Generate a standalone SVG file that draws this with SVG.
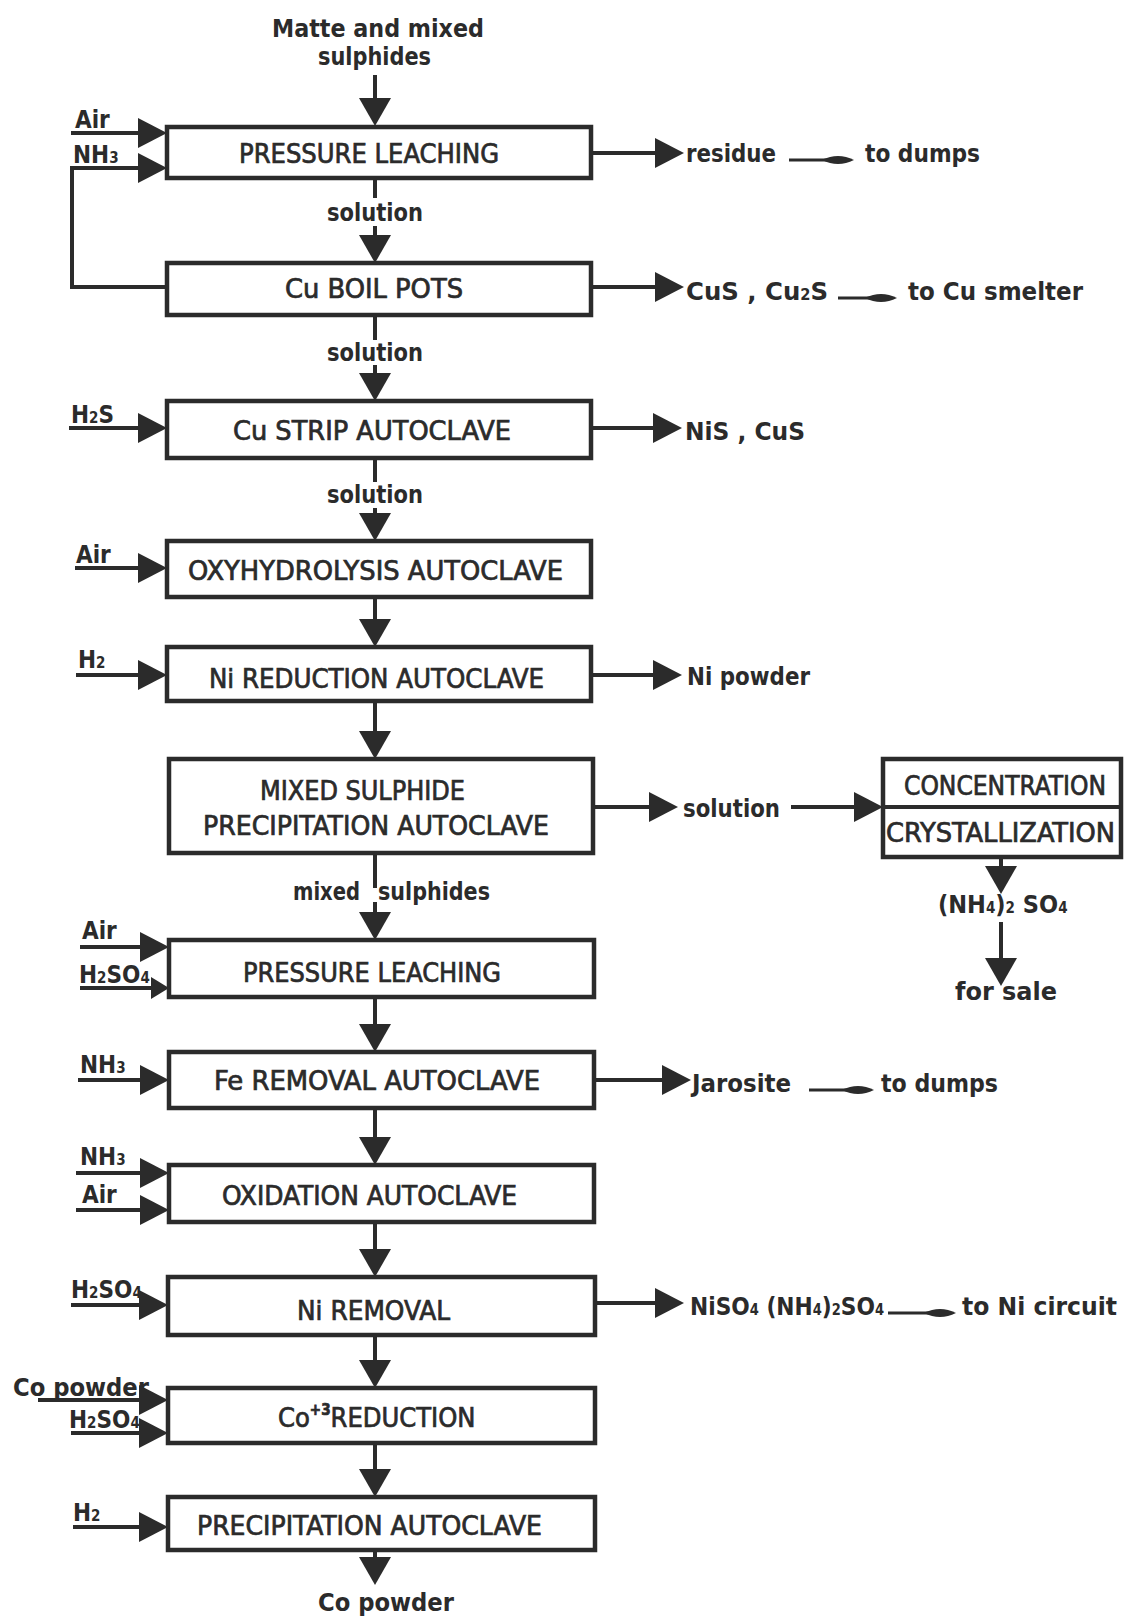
<svg xmlns="http://www.w3.org/2000/svg" xmlns:xlink="http://www.w3.org/1999/xlink" width="1125" height="1619" viewBox="0 0 1125 1619">
  <defs>
    <style>
      .box { fill: #ffffff; stroke: #2b2b2b; stroke-width: 4.5; }
      .ln { fill: none; stroke: #2b2b2b; stroke-width: 4; stroke-linecap: butt; }
      .thin { fill: none; stroke: #2b2b2b; stroke-width: 3; }
      .head { fill: #2b2b2b; }
      text { fill: #2b2b2b; font-family: "DejaVu Sans Condensed", "DejaVu Sans", sans-serif; font-stretch: condensed; }
      .bl { font-size: 27px; font-weight: normal; stroke: #2b2b2b; stroke-width: 0.7; }
      .lb { font-size: 25px; font-weight: bold; }
      .in { font-size: 24px; font-weight: bold; }
      .sub { font-size: 15px; }
    </style>
    <!-- filled arrowheads, tip at the origin -->
    <polygon id="ah-down" class="head" points="-16,-28 16,-28 0,0"/>
    <polygon id="ah-right" class="head" points="-29,-15 -29,15 0,0"/>
    <polygon id="ah-right-s" class="head" points="-18,-11 -18,11 0,0"/>
    <!-- small lens-shaped arrowhead used in the "to ..." notes -->
    <path id="ah-small" class="head" d="M-32,0 Q-16,-8 0,0 Q-16,8 -32,0 Z"/>
  </defs>

  <!-- connectors -->
  <g id="connectors">
    <!-- main column, downward flow -->
    <line class="ln" x1="375" y1="75" x2="375" y2="100"/>
    <use xlink:href="#ah-down" x="375" y="126"/>
    <line class="ln" x1="375" y1="178" x2="375" y2="198"/>
    <line class="ln" x1="375" y1="226" x2="375" y2="238"/>
    <use xlink:href="#ah-down" x="375" y="263"/>
    <line class="ln" x1="375" y1="315" x2="375" y2="340"/>
    <line class="ln" x1="375" y1="365" x2="375" y2="376"/>
    <use xlink:href="#ah-down" x="375" y="401"/>
    <line class="ln" x1="375" y1="458" x2="375" y2="482"/>
    <line class="ln" x1="375" y1="508" x2="375" y2="516"/>
    <use xlink:href="#ah-down" x="375" y="541"/>
    <line class="ln" x1="375" y1="597" x2="375" y2="622"/>
    <use xlink:href="#ah-down" x="375" y="647"/>
    <line class="ln" x1="375" y1="701" x2="375" y2="734"/>
    <use xlink:href="#ah-down" x="375" y="759"/>
    <line class="ln" x1="375" y1="853" x2="375" y2="888"/>
    <line class="ln" x1="375" y1="902" x2="375" y2="914"/>
    <use xlink:href="#ah-down" x="375" y="940"/>
    <line class="ln" x1="375" y1="997" x2="375" y2="1028"/>
    <use xlink:href="#ah-down" x="375" y="1052"/>
    <line class="ln" x1="375" y1="1108" x2="375" y2="1140"/>
    <use xlink:href="#ah-down" x="375" y="1165"/>
    <line class="ln" x1="375" y1="1222" x2="375" y2="1252"/>
    <use xlink:href="#ah-down" x="375" y="1277"/>
    <line class="ln" x1="375" y1="1335" x2="375" y2="1363"/>
    <use xlink:href="#ah-down" x="375" y="1388"/>
    <line class="ln" x1="375" y1="1443" x2="375" y2="1472"/>
    <use xlink:href="#ah-down" x="375" y="1497"/>
    <line class="ln" x1="375" y1="1550" x2="375" y2="1560"/>
    <use xlink:href="#ah-down" x="375" y="1585"/>

    <!-- feeds entering from the left -->
    <line class="ln" x1="71" y1="133" x2="140" y2="133"/>
    <use xlink:href="#ah-right" x="167" y="133"/>
    <!-- ammonia recycle from the Cu boil pots -->
    <polyline class="ln" points="167,287 72,287 72,168 140,168"/>
    <use xlink:href="#ah-right" x="167" y="168"/>
    <line class="ln" x1="69" y1="428" x2="140" y2="428"/>
    <use xlink:href="#ah-right" x="167" y="428"/>
    <line class="ln" x1="75" y1="568" x2="140" y2="568"/>
    <use xlink:href="#ah-right" x="167" y="568"/>
    <line class="ln" x1="76" y1="675" x2="140" y2="675"/>
    <use xlink:href="#ah-right" x="167" y="675"/>
    <line class="ln" x1="80" y1="947" x2="142" y2="947"/>
    <use xlink:href="#ah-right" x="169" y="947"/>
    <line class="ln" x1="80" y1="988" x2="153" y2="988"/>
    <use xlink:href="#ah-right-s" x="169" y="988"/>
    <line class="ln" x1="78" y1="1080" x2="142" y2="1080"/>
    <use xlink:href="#ah-right" x="169" y="1080"/>
    <line class="ln" x1="76" y1="1173" x2="142" y2="1173"/>
    <use xlink:href="#ah-right" x="169" y="1173"/>
    <line class="ln" x1="76" y1="1210" x2="142" y2="1210"/>
    <use xlink:href="#ah-right" x="169" y="1210"/>
    <line class="ln" x1="71" y1="1305" x2="141" y2="1305"/>
    <use xlink:href="#ah-right" x="168" y="1305"/>
    <line class="ln" x1="38" y1="1400" x2="141" y2="1400"/>
    <use xlink:href="#ah-right" x="168" y="1400"/>
    <line class="ln" x1="71" y1="1433" x2="141" y2="1433"/>
    <use xlink:href="#ah-right" x="168" y="1433"/>
    <line class="ln" x1="73" y1="1527" x2="141" y2="1527"/>
    <use xlink:href="#ah-right" x="168" y="1527"/>

    <!-- products leaving to the right -->
    <line class="ln" x1="591" y1="153" x2="656" y2="153"/>
    <use xlink:href="#ah-right" x="684" y="153"/>
    <line class="ln" x1="591" y1="287" x2="656" y2="287"/>
    <use xlink:href="#ah-right" x="684" y="287"/>
    <line class="ln" x1="591" y1="428" x2="654" y2="428"/>
    <use xlink:href="#ah-right" x="682" y="428"/>
    <line class="ln" x1="591" y1="675" x2="654" y2="675"/>
    <use xlink:href="#ah-right" x="682" y="675"/>
    <line class="ln" x1="593" y1="807" x2="650" y2="807"/>
    <use xlink:href="#ah-right" x="678" y="807"/>
    <line class="ln" x1="791" y1="807" x2="855" y2="807"/>
    <use xlink:href="#ah-right" x="883" y="807"/>
    <line class="ln" x1="594" y1="1080" x2="663" y2="1080"/>
    <use xlink:href="#ah-right" x="691" y="1080"/>
    <line class="ln" x1="595" y1="1303" x2="656" y2="1303"/>
    <use xlink:href="#ah-right" x="684" y="1303"/>

    <!-- ammonium sulphate branch -->
    <line class="ln" x1="1001" y1="857" x2="1001" y2="868"/>
    <use xlink:href="#ah-down" x="1001" y="894"/>
    <line class="ln" x1="1001" y1="922" x2="1001" y2="960"/>
    <use xlink:href="#ah-down" x="1001" y="986"/>

    <!-- small "to ..." arrows -->
    <line class="thin" x1="789" y1="160" x2="830" y2="160"/>
    <use xlink:href="#ah-small" x="854" y="160"/>
    <line class="thin" x1="838" y1="298" x2="873" y2="298"/>
    <use xlink:href="#ah-small" x="897" y="298"/>
    <line class="thin" x1="809" y1="1090" x2="850" y2="1090"/>
    <use xlink:href="#ah-small" x="874" y="1090"/>
    <line class="thin" x1="888" y1="1313" x2="932" y2="1313"/>
    <use xlink:href="#ah-small" x="956" y="1313"/>
  </g>

  <!-- feed -->
  <g id="feed">
    <text class="lb" x="272" y="37" textLength="212" lengthAdjust="spacingAndGlyphs">Matte and mixed</text>
    <text class="lb" x="318" y="65" textLength="113" lengthAdjust="spacingAndGlyphs">sulphides</text>
  </g>

  <!-- process units -->
  <g id="n-pressure-leaching-1">
    <rect class="box" x="167" y="127" width="424" height="51"/>
    <text class="bl" x="239" y="163" textLength="260" lengthAdjust="spacingAndGlyphs">PRESSURE LEACHING</text>
  </g>
  <g id="n-cu-boil-pots">
    <rect class="box" x="167" y="263" width="424" height="52"/>
    <text class="bl" x="285" y="298" textLength="178" lengthAdjust="spacingAndGlyphs">Cu BOIL POTS</text>
  </g>
  <g id="n-cu-strip">
    <rect class="box" x="167" y="401" width="424" height="57"/>
    <text class="bl" x="233" y="440" textLength="278" lengthAdjust="spacingAndGlyphs">Cu STRIP AUTOCLAVE</text>
  </g>
  <g id="n-oxyhydrolysis">
    <rect class="box" x="167" y="541" width="424" height="56"/>
    <text class="bl" x="188" y="580" textLength="375" lengthAdjust="spacingAndGlyphs">OXYHYDROLYSIS AUTOCLAVE</text>
  </g>
  <g id="n-ni-reduction">
    <rect class="box" x="167" y="647" width="424" height="54"/>
    <text class="bl" x="209" y="688" textLength="335" lengthAdjust="spacingAndGlyphs">Ni REDUCTION AUTOCLAVE</text>
  </g>
  <g id="n-mixed-sulphide">
    <rect class="box" x="169" y="759" width="424" height="94"/>
    <text class="bl" x="260" y="800" textLength="205" lengthAdjust="spacingAndGlyphs">MIXED SULPHIDE</text>
    <text class="bl" x="203" y="835" textLength="346" lengthAdjust="spacingAndGlyphs">PRECIPITATION AUTOCLAVE</text>
  </g>
  <g id="n-concentration">
    <rect class="box" x="883" y="759" width="238" height="98"/>
    <line class="ln" x1="883" y1="807" x2="1121" y2="807"/>
    <text class="bl" x="904" y="795" textLength="202" lengthAdjust="spacingAndGlyphs">CONCENTRATION</text>
    <text class="bl" x="886" y="842" textLength="229" lengthAdjust="spacingAndGlyphs">CRYSTALLIZATION</text>
  </g>
  <g id="n-pressure-leaching-2">
    <rect class="box" x="169" y="940" width="425" height="57"/>
    <text class="bl" x="243" y="982" textLength="258" lengthAdjust="spacingAndGlyphs">PRESSURE LEACHING</text>
  </g>
  <g id="n-fe-removal">
    <rect class="box" x="169" y="1052" width="425" height="56"/>
    <text class="bl" x="214" y="1090" textLength="326" lengthAdjust="spacingAndGlyphs">Fe REMOVAL AUTOCLAVE</text>
  </g>
  <g id="n-oxidation">
    <rect class="box" x="169" y="1165" width="425" height="57"/>
    <text class="bl" x="222" y="1205" textLength="295" lengthAdjust="spacingAndGlyphs">OXIDATION AUTOCLAVE</text>
  </g>
  <g id="n-ni-removal">
    <rect class="box" x="168" y="1277" width="427" height="58"/>
    <text class="bl" x="297" y="1320" textLength="153" lengthAdjust="spacingAndGlyphs">Ni REMOVAL</text>
  </g>
  <g id="n-co-reduction">
    <rect class="box" x="168" y="1388" width="427" height="55"/>
    <text class="bl" x="278" y="1427">Co<tspan class="sub" dy="-12" font-weight="bold">+3</tspan><tspan dy="12">REDUCTION</tspan></text>
  </g>
  <g id="n-precipitation">
    <rect class="box" x="168" y="1497" width="427" height="53"/>
    <text class="bl" x="197" y="1535" textLength="345" lengthAdjust="spacingAndGlyphs">PRECIPITATION AUTOCLAVE</text>
  </g>

  <!-- stream labels in the main column -->
  <g id="stream-labels">
    <text class="lb" x="327" y="221" textLength="96" lengthAdjust="spacingAndGlyphs">solution</text>
    <text class="lb" x="327" y="361" textLength="96" lengthAdjust="spacingAndGlyphs">solution</text>
    <text class="lb" x="327" y="503" textLength="96" lengthAdjust="spacingAndGlyphs">solution</text>
    <text class="lb" y="900"><tspan x="293" textLength="67" lengthAdjust="spacingAndGlyphs">mixed</tspan> <tspan x="378" textLength="112" lengthAdjust="spacingAndGlyphs">sulphides</tspan></text>
    <text class="lb" x="318" y="1611" textLength="136" lengthAdjust="spacingAndGlyphs">Co powder</text>
  </g>

  <!-- reagents -->
  <g id="reagents">
    <text class="in" x="75" y="128">Air</text>
    <text class="in" x="73" y="163">NH<tspan class="sub">3</tspan></text>
    <text class="in" x="71" y="423">H<tspan class="sub">2</tspan>S</text>
    <text class="in" x="76" y="563">Air</text>
    <text class="in" x="78" y="668">H<tspan class="sub">2</tspan></text>
    <text class="in" x="82" y="939">Air</text>
    <text class="in" x="79" y="983">H<tspan class="sub">2</tspan>SO<tspan class="sub">4</tspan></text>
    <text class="in" x="80" y="1073">NH<tspan class="sub">3</tspan></text>
    <text class="in" x="80" y="1165">NH<tspan class="sub">3</tspan></text>
    <text class="in" x="82" y="1203">Air</text>
    <text class="in" x="71" y="1298">H<tspan class="sub">2</tspan>SO<tspan class="sub">4</tspan></text>
    <text class="in" x="13" y="1396" textLength="136" lengthAdjust="spacingAndGlyphs">Co powder</text>
    <text class="in" x="69" y="1428">H<tspan class="sub">2</tspan>SO<tspan class="sub">4</tspan></text>
    <text class="in" x="73" y="1521">H<tspan class="sub">2</tspan></text>
  </g>

  <!-- products -->
  <g id="products">
    <text class="lb" x="686" y="162" textLength="90" lengthAdjust="spacingAndGlyphs">residue</text>
    <text class="lb" x="865" y="162" textLength="115" lengthAdjust="spacingAndGlyphs">to dumps</text>
    <text class="lb" x="686" y="300" textLength="142" lengthAdjust="spacingAndGlyphs">CuS , Cu<tspan class="sub">2</tspan>S</text>
    <text class="lb" x="908" y="300" textLength="175" lengthAdjust="spacingAndGlyphs">to Cu smelter</text>
    <text class="lb" x="685" y="440" textLength="120" lengthAdjust="spacingAndGlyphs">NiS , CuS</text>
    <text class="lb" x="687" y="685" textLength="123" lengthAdjust="spacingAndGlyphs">Ni powder</text>
    <text class="lb" x="683" y="817" textLength="97" lengthAdjust="spacingAndGlyphs">solution</text>
    <text class="lb" x="938" y="913" font-size="23">(NH<tspan class="sub">4</tspan>)<tspan class="sub">2</tspan> SO<tspan class="sub">4</tspan></text>
    <text class="lb" x="955" y="1000" textLength="102" lengthAdjust="spacingAndGlyphs">for sale</text>
    <text class="lb" x="692" y="1092" textLength="99" lengthAdjust="spacingAndGlyphs">Jarosite</text>
    <text class="lb" x="881" y="1092" textLength="117" lengthAdjust="spacingAndGlyphs">to dumps</text>
    <text class="lb" x="690" y="1315" textLength="194" lengthAdjust="spacingAndGlyphs">NiSO<tspan class="sub">4</tspan> (NH<tspan class="sub">4</tspan>)<tspan class="sub">2</tspan>SO<tspan class="sub">4</tspan></text>
    <text class="lb" x="962" y="1315" textLength="155" lengthAdjust="spacingAndGlyphs">to Ni circuit</text>
  </g>
</svg>
